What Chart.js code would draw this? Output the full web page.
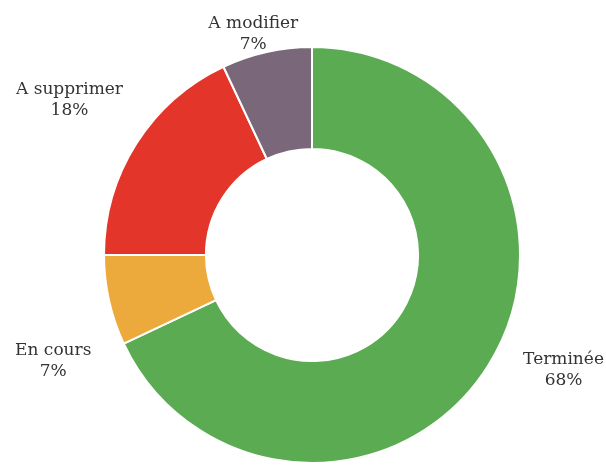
<!DOCTYPE html>
<html>
<head>
<meta charset="utf-8">
<script src="https://cdn.jsdelivr.net/npm/chart.js@4.4.1/dist/chart.umd.min.js"></script>
<style>
  html, body { margin: 0; padding: 0; background: #fff; }
  #wrap { width: 606px; height: 467px; }
</style>
</head>
<body>
<div id="wrap"><canvas id="chart"></canvas></div>
<script>
const categories = ['Terminée', 'En cours', 'A supprimer', 'A modifier'];
const percents = [68, 7, 18, 7];
const colors = ['#5aab52', '#ecaa3c', '#e4352a', '#7a687a'];

// where each label sits, relative to the mid-angle of its slice
const labelNudge = [[32, -25], [-5, 49], [-23, -16], [-2, 32]];

const outsideLabels = {
  id: 'outsideLabels',
  afterDatasetsDraw(chart) {
    const ctx = chart.ctx;
    const meta = chart.getDatasetMeta(0);
    ctx.save();
    ctx.font = '17px "DejaVu Serif", serif';
    ctx.fillStyle = '#333';
    ctx.textAlign = 'center';
    ctx.textBaseline = 'middle';
    meta.data.forEach((arc, i) => {
      const p = arc.getProps(['x', 'y', 'startAngle', 'endAngle', 'outerRadius'], true);
      const mid = (p.startAngle + p.endAngle) / 2;
      const r = p.outerRadius * 1.25;
      const x = p.x + Math.cos(mid) * r + labelNudge[i][0];
      const y = p.y + Math.sin(mid) * r + labelNudge[i][1];
      ctx.fillText(categories[i], x, y - 10);
      ctx.fillText(percents[i] + '%', x, y + 11);
    });
    ctx.restore();
  }
};

new Chart(document.getElementById('chart'), {
  type: 'doughnut',
  data: {
    labels: categories,
    datasets: [{
      data: percents,
      backgroundColor: colors,
      borderColor: '#fff',
      borderWidth: 2,
      hoverOffset: 0
    }]
  },
  options: {
    responsive: true,
    maintainAspectRatio: false,
    animation: false,
    cutout: '51%',
    layout: { padding: { top: 46, bottom: 3, left: 18, right: 0 } },
    plugins: {
      legend: { display: false },
      tooltip: { enabled: false }
    }
  },
  plugins: [outsideLabels]
});
</script>
</body>
</html>
